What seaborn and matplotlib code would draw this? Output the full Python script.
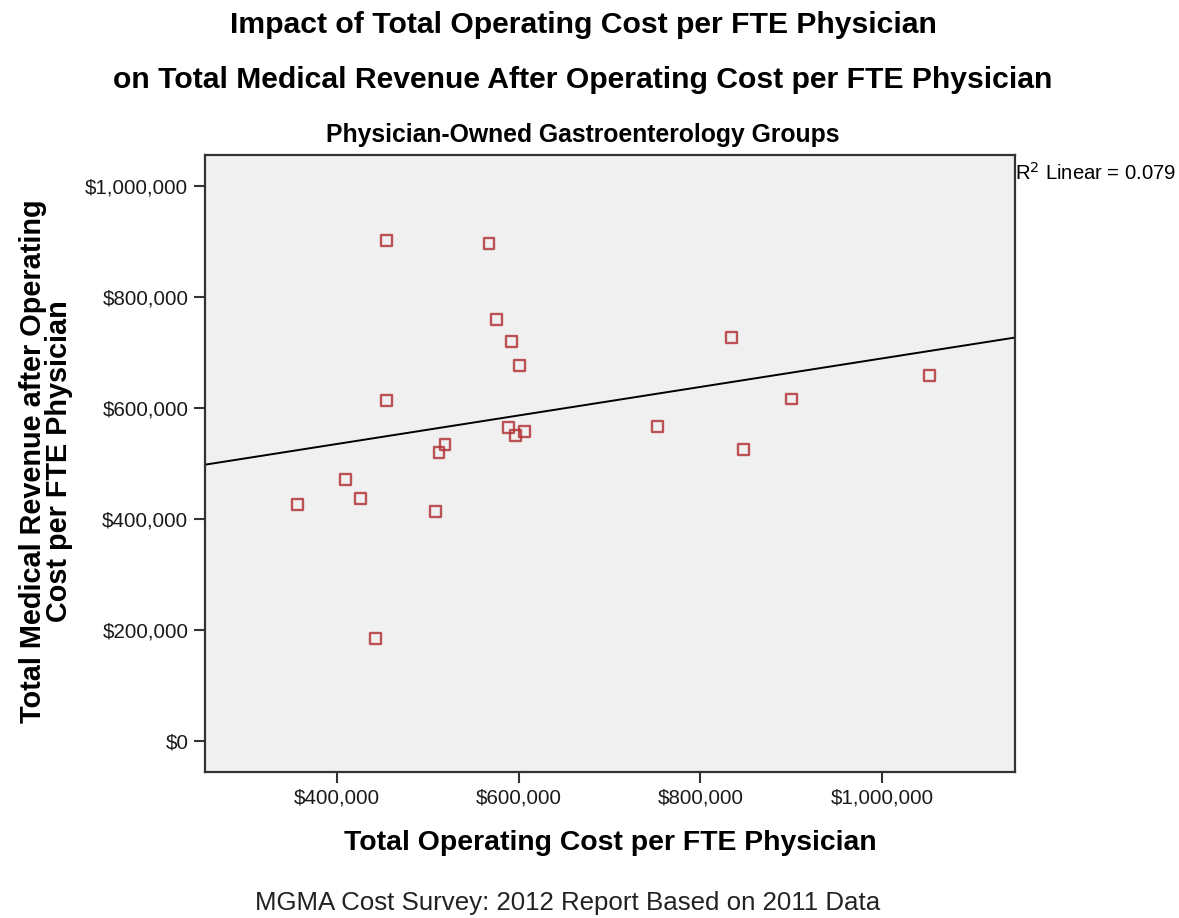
import matplotlib
matplotlib.use("Agg")
import matplotlib.pyplot as plt
import seaborn as sns
import pandas as pd
from matplotlib.ticker import FuncFormatter, FixedLocator

# Data (USD per FTE physician)
operating_cost = [357200, 409700, 425900, 443000, 454700, 454700, 508400, 512400,
                  519000, 567400, 575800, 588400, 592400, 596700, 600900, 606000,
                  752900, 834600, 847800, 899800, 1051700]
revenue_after_cost = [426100, 471900, 436400, 184700, 901300, 613500, 413500, 519800,
                      533700, 895300, 758900, 564900, 718700, 549900, 676600, 557100,
                      566700, 726500, 525900, 616000, 657500]
x_ticks = [400000, 600000, 800000, 1000000]
y_ticks = [0, 200000, 400000, 600000, 800000, 1000000]
r2_text = "R$^2$ Linear = 0.079"

df = pd.DataFrame({"cost": operating_cost, "rev": revenue_after_cost})

sns.set_style("ticks")
plt.rcParams["font.family"] = ["Liberation Sans", "DejaVu Sans"]
plt.rcParams["text.color"] = "black"

fig = plt.figure(figsize=(11.79, 9.18), dpi=100)
ax = fig.add_axes([205/1179, 1-772/918, (1015-205)/1179, (772-155)/918])
ax.set_facecolor("#f0f0f0")
ax.set_xlim(255000, 1146000)
ax.set_ylim(-55000, 1055000)

sns.regplot(data=df, x="cost", y="rev", ax=ax, ci=None, truncate=False,
            marker="s",
            scatter_kws=dict(s=62, facecolors="none", edgecolors="#b02a30", linewidths=1.7),
            line_kws=dict(color="black", linewidth=1.4))

ax.set_xlim(255000, 1146000)
ax.set_ylim(-55000, 1055000)
ax.xaxis.set_major_locator(FixedLocator(x_ticks))
ax.yaxis.set_major_locator(FixedLocator(y_ticks))
fmt = FuncFormatter(lambda v, p: f"${v:,.0f}")
ax.xaxis.set_major_formatter(fmt)
ax.yaxis.set_major_formatter(fmt)
ax.tick_params(axis="both", direction="out", length=8, width=1.5, color="#333333",
               labelsize=14.8, labelcolor="#1a1a1a", pad=4)
for s in ax.spines.values():
    s.set_color("#333333")
    s.set_linewidth(1.6)

ax.set_xlabel("Total Operating Cost per FTE Physician", fontsize=20.4, fontweight="bold",
              labelpad=16, color="black")
ax.set_ylabel("")
fig.text(46/1179, 1-461/918, "Total Medical Revenue after Operating\nCost per FTE Physician",
         rotation=90, ha="center", va="center", fontsize=20.8, fontweight="bold",
         linespacing=0.95)

fig.text(0.4945, 1-25/918, "Impact of Total Operating Cost per FTE Physician",
         ha="center", va="center", fontsize=21.7, fontweight="bold")
fig.text(0.4945, 1-80/918, "on Total Medical Revenue After Operating Cost per FTE Physician",
         ha="center", va="center", fontsize=21.7, fontweight="bold")
fig.text(0.4945, 1-135/918, "Physician-Owned Gastroenterology Groups",
         ha="center", va="center", fontsize=17.8, fontweight="bold")
fig.text(1015/1179, 1-173/918, r2_text, ha="left", va="center", fontsize=14.6)
fig.text(568/1179, 1-903/918, "MGMA Cost Survey: 2012 Report Based on 2011 Data",
         ha="center", va="center", fontsize=18.6, color="#222222")

fig.savefig("out.png", dpi=100, facecolor="white")
